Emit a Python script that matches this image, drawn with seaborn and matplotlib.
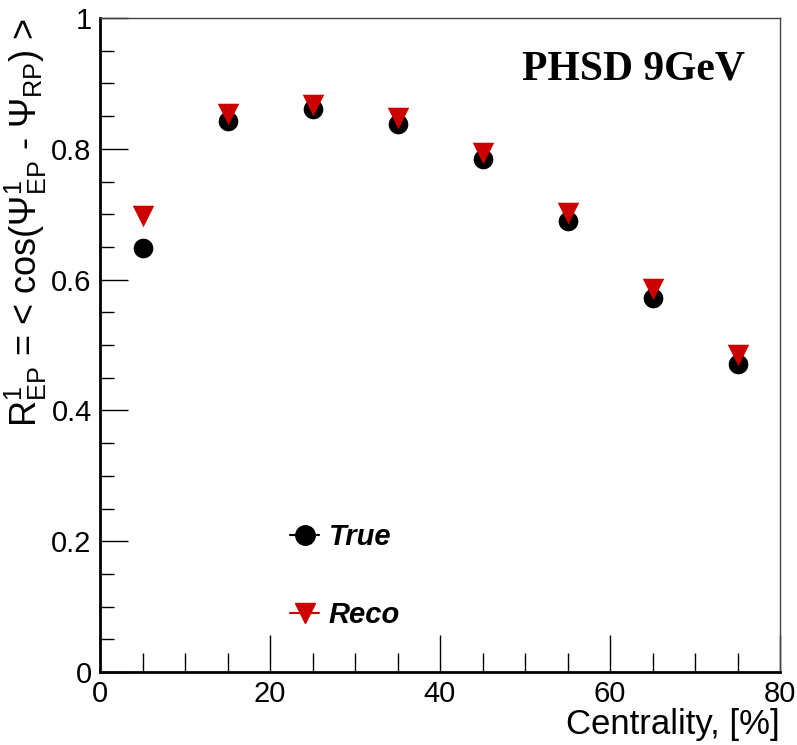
import matplotlib
matplotlib.use('Agg')
import matplotlib.pyplot as plt
import seaborn as sns
import pandas as pd
from matplotlib.lines import Line2D
from matplotlib.ticker import MultipleLocator

# data
centrality = [5, 15, 25, 35, 45, 55, 65, 75]
r_true = [0.648, 0.842, 0.861, 0.838, 0.784, 0.690, 0.572, 0.471]
r_reco = [0.697, 0.853, 0.867, 0.847, 0.794, 0.702, 0.586, 0.485]

df = pd.DataFrame({'Centrality': centrality, 'True': r_true, 'Reco': r_reco})

sns.set_style('white')
plt.rcParams['font.family'] = ['Liberation Sans', 'DejaVu Sans']
plt.rcParams['mathtext.fontset'] = 'custom'
plt.rcParams['mathtext.rm'] = 'Liberation Sans'
plt.rcParams['mathtext.it'] = 'Liberation Sans:italic'
plt.rcParams['text.color'] = 'black'
plt.rcParams['axes.labelcolor'] = 'black'
plt.rcParams['xtick.color'] = 'black'
plt.rcParams['ytick.color'] = 'black'

fig = plt.figure(figsize=(7.97, 7.45), dpi=100)
ax = fig.add_axes([100 / 797, 1 - 672 / 745, 680 / 797, 654 / 745])

sns.scatterplot(data=df, x='Centrality', y='True', ax=ax, marker='o', s=200,
                color='black', edgecolor='black', linewidth=0, zorder=3)
sns.scatterplot(data=df, x='Centrality', y='Reco', ax=ax, marker='v', s=240,
                color='#cc0000', edgecolor='#cc0000', linewidth=0, zorder=4)

ax.set_xlim(0, 80)
ax.set_ylim(0, 1)
ax.xaxis.set_minor_locator(MultipleLocator(5))
ax.yaxis.set_minor_locator(MultipleLocator(0.05))
ax.set_xticks([0, 20, 40, 60, 80])
ax.set_xticklabels(['0', '20', '40', '60', '80'])
ax.set_yticks([0, 0.2, 0.4, 0.6, 0.8, 1.0])
ax.set_yticklabels(['0', '0.2', '0.4', '0.6', '0.8', '1'])
ax.tick_params(which='both', direction='in', left=True, bottom=True,
               top=False, right=False, width=1, colors='black')
ax.tick_params(which='major', labelsize=21, pad=6)
ax.tick_params(axis='y', which='major', length=20)
ax.tick_params(axis='y', which='minor', length=10)
ax.tick_params(axis='x', which='major', length=27)
ax.tick_params(axis='x', which='minor', length=14)

for side in ['left', 'bottom']:
    ax.spines[side].set_color('black')
    ax.spines[side].set_linewidth(2)
for side in ['top', 'right']:
    ax.spines[side].set_color('#444444')
    ax.spines[side].set_linewidth(1)

ax.set_xlabel('Centrality, [%]', fontsize=25, loc='right', labelpad=0)
ax.set_ylabel(r'R$^{1}_{\rm EP}$ = < cos($\Psi^{1}_{\rm EP}$ - $\Psi_{\rm RP}$) >',
              fontsize=26, loc='top', labelpad=2)

ax.text(0.948, 0.922, 'PHSD 9GeV', transform=ax.transAxes, ha='right', va='center',
        fontsize=30, fontweight='bold', family=['Liberation Serif'])

handles = [
    Line2D([0], [0], color='black', marker='o', markersize=14, lw=1.5, label='True'),
    Line2D([0], [0], color='#cc0000', marker='v', markersize=15, lw=1.5, label='Reco'),
]
leg = ax.legend(handles=handles, loc='center left', bbox_to_anchor=(0.241, 0.1465),
                frameon=False, handlelength=1.0, handletextpad=0.32, labelspacing=1.73,
                prop={'size': 21, 'weight': 'bold', 'style': 'italic'})

ax.grid(False)
fig.savefig('out.png', dpi=100)
